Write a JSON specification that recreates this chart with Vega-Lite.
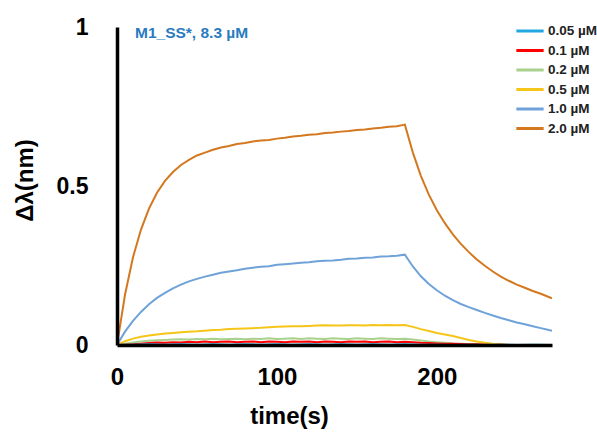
{
"$schema": "https://vega.github.io/schema/vega-lite/v6.json",
"width": 435, "height": 318,
"autosize": {"type": "none"},
"padding": {"left": 117, "top": 27, "right": 45, "bottom": 87},
"background": "white",
"config": {"view": {"stroke": null}, "font": "Liberation Sans"},
"title": {"text": "M1_SS*, 8.3 µM", "anchor": "start", "frame": "group", "orient": "top", "fontSize": 15.5, "fontWeight": "bold", "color": "#2A7BC0", "font": "Liberation Sans", "dx": 18, "dy": 32, "baseline": "middle", "offset": 0},
"datasets": {"d": [
{"t":0,"c":"2.0 µM","v":0},{"t":5,"c":"2.0 µM","v":0.158},{"t":10,"c":"2.0 µM","v":0.276},{"t":15,"c":"2.0 µM","v":0.363},{"t":20,"c":"2.0 µM","v":0.429},{"t":25,"c":"2.0 µM","v":0.479},{"t":30,"c":"2.0 µM","v":0.516},{"t":35,"c":"2.0 µM","v":0.544},{"t":40,"c":"2.0 µM","v":0.566},{"t":45,"c":"2.0 µM","v":0.582},{"t":50,"c":"2.0 µM","v":0.596},{"t":55,"c":"2.0 µM","v":0.605},{"t":60,"c":"2.0 µM","v":0.614},{"t":65,"c":"2.0 µM","v":0.621},{"t":70,"c":"2.0 µM","v":0.626},{"t":75,"c":"2.0 µM","v":0.632},{"t":80,"c":"2.0 µM","v":0.635},{"t":85,"c":"2.0 µM","v":0.640},{"t":90,"c":"2.0 µM","v":0.643},{"t":95,"c":"2.0 µM","v":0.645},{"t":100,"c":"2.0 µM","v":0.649},{"t":105,"c":"2.0 µM","v":0.652},{"t":110,"c":"2.0 µM","v":0.656},{"t":115,"c":"2.0 µM","v":0.658},{"t":120,"c":"2.0 µM","v":0.661},{"t":125,"c":"2.0 µM","v":0.663},{"t":130,"c":"2.0 µM","v":0.667},{"t":135,"c":"2.0 µM","v":0.668},{"t":140,"c":"2.0 µM","v":0.671},{"t":145,"c":"2.0 µM","v":0.673},{"t":150,"c":"2.0 µM","v":0.676},{"t":155,"c":"2.0 µM","v":0.678},{"t":160,"c":"2.0 µM","v":0.681},{"t":165,"c":"2.0 µM","v":0.683},{"t":170,"c":"2.0 µM","v":0.686},{"t":175,"c":"2.0 µM","v":0.688},{"t":180,"c":"2.0 µM","v":0.693},{"t":185,"c":"2.0 µM","v":0.605},{"t":190,"c":"2.0 µM","v":0.532},{"t":195,"c":"2.0 µM","v":0.473},{"t":200,"c":"2.0 µM","v":0.424},{"t":205,"c":"2.0 µM","v":0.383},{"t":210,"c":"2.0 µM","v":0.348},{"t":215,"c":"2.0 µM","v":0.318},{"t":220,"c":"2.0 µM","v":0.292},{"t":225,"c":"2.0 µM","v":0.269},{"t":230,"c":"2.0 µM","v":0.249},{"t":235,"c":"2.0 µM","v":0.231},{"t":240,"c":"2.0 µM","v":0.215},{"t":245,"c":"2.0 µM","v":0.202},{"t":250,"c":"2.0 µM","v":0.190},{"t":255,"c":"2.0 µM","v":0.180},{"t":260,"c":"2.0 µM","v":0.170},{"t":265,"c":"2.0 µM","v":0.161},{"t":270,"c":"2.0 µM","v":0.151},{"t":272,"c":"2.0 µM","v":0.147},
{"t":0,"c":"1.0 µM","v":0},{"t":5,"c":"1.0 µM","v":0.042},{"t":10,"c":"1.0 µM","v":0.076},{"t":15,"c":"1.0 µM","v":0.104},{"t":20,"c":"1.0 µM","v":0.128},{"t":25,"c":"1.0 µM","v":0.148},{"t":30,"c":"1.0 µM","v":0.164},{"t":35,"c":"1.0 µM","v":0.178},{"t":40,"c":"1.0 µM","v":0.190},{"t":45,"c":"1.0 µM","v":0.200},{"t":50,"c":"1.0 µM","v":0.208},{"t":55,"c":"1.0 µM","v":0.215},{"t":60,"c":"1.0 µM","v":0.221},{"t":65,"c":"1.0 µM","v":0.227},{"t":70,"c":"1.0 µM","v":0.231},{"t":75,"c":"1.0 µM","v":0.235},{"t":80,"c":"1.0 µM","v":0.240},{"t":85,"c":"1.0 µM","v":0.243},{"t":90,"c":"1.0 µM","v":0.246},{"t":95,"c":"1.0 µM","v":0.248},{"t":100,"c":"1.0 µM","v":0.252},{"t":105,"c":"1.0 µM","v":0.254},{"t":110,"c":"1.0 µM","v":0.256},{"t":115,"c":"1.0 µM","v":0.259},{"t":120,"c":"1.0 µM","v":0.260},{"t":125,"c":"1.0 µM","v":0.263},{"t":130,"c":"1.0 µM","v":0.265},{"t":135,"c":"1.0 µM","v":0.266},{"t":140,"c":"1.0 µM","v":0.268},{"t":145,"c":"1.0 µM","v":0.271},{"t":150,"c":"1.0 µM","v":0.272},{"t":155,"c":"1.0 µM","v":0.274},{"t":160,"c":"1.0 µM","v":0.275},{"t":165,"c":"1.0 µM","v":0.278},{"t":170,"c":"1.0 µM","v":0.279},{"t":175,"c":"1.0 µM","v":0.281},{"t":180,"c":"1.0 µM","v":0.284},{"t":185,"c":"1.0 µM","v":0.247},{"t":190,"c":"1.0 µM","v":0.216},{"t":195,"c":"1.0 µM","v":0.192},{"t":200,"c":"1.0 µM","v":0.172},{"t":205,"c":"1.0 µM","v":0.155},{"t":210,"c":"1.0 µM","v":0.141},{"t":215,"c":"1.0 µM","v":0.129},{"t":220,"c":"1.0 µM","v":0.119},{"t":225,"c":"1.0 µM","v":0.110},{"t":230,"c":"1.0 µM","v":0.101},{"t":235,"c":"1.0 µM","v":0.093},{"t":240,"c":"1.0 µM","v":0.085},{"t":245,"c":"1.0 µM","v":0.078},{"t":250,"c":"1.0 µM","v":0.071},{"t":255,"c":"1.0 µM","v":0.065},{"t":260,"c":"1.0 µM","v":0.059},{"t":265,"c":"1.0 µM","v":0.053},{"t":270,"c":"1.0 µM","v":0.047},{"t":272,"c":"1.0 µM","v":0.045},
{"t":0,"c":"0.5 µM","v":0},{"t":5,"c":"0.5 µM","v":0.012},{"t":10,"c":"0.5 µM","v":0.020},{"t":15,"c":"0.5 µM","v":0.026},{"t":20,"c":"0.5 µM","v":0.030},{"t":25,"c":"0.5 µM","v":0.033},{"t":30,"c":"0.5 µM","v":0.036},{"t":35,"c":"0.5 µM","v":0.038},{"t":40,"c":"0.5 µM","v":0.040},{"t":45,"c":"0.5 µM","v":0.042},{"t":50,"c":"0.5 µM","v":0.043},{"t":55,"c":"0.5 µM","v":0.045},{"t":60,"c":"0.5 µM","v":0.047},{"t":65,"c":"0.5 µM","v":0.048},{"t":70,"c":"0.5 µM","v":0.050},{"t":75,"c":"0.5 µM","v":0.051},{"t":80,"c":"0.5 µM","v":0.052},{"t":85,"c":"0.5 µM","v":0.053},{"t":90,"c":"0.5 µM","v":0.054},{"t":95,"c":"0.5 µM","v":0.056},{"t":100,"c":"0.5 µM","v":0.057},{"t":105,"c":"0.5 µM","v":0.058},{"t":110,"c":"0.5 µM","v":0.059},{"t":115,"c":"0.5 µM","v":0.059},{"t":120,"c":"0.5 µM","v":0.060},{"t":125,"c":"0.5 µM","v":0.061},{"t":130,"c":"0.5 µM","v":0.062},{"t":135,"c":"0.5 µM","v":0.061},{"t":140,"c":"0.5 µM","v":0.061},{"t":145,"c":"0.5 µM","v":0.062},{"t":150,"c":"0.5 µM","v":0.062},{"t":155,"c":"0.5 µM","v":0.061},{"t":160,"c":"0.5 µM","v":0.063},{"t":165,"c":"0.5 µM","v":0.062},{"t":170,"c":"0.5 µM","v":0.063},{"t":175,"c":"0.5 µM","v":0.062},{"t":180,"c":"0.5 µM","v":0.063},{"t":185,"c":"0.5 µM","v":0.057},{"t":190,"c":"0.5 µM","v":0.050},{"t":195,"c":"0.5 µM","v":0.044},{"t":200,"c":"0.5 µM","v":0.038},{"t":205,"c":"0.5 µM","v":0.033},{"t":210,"c":"0.5 µM","v":0.028},{"t":215,"c":"0.5 µM","v":0.022},{"t":220,"c":"0.5 µM","v":0.016},{"t":225,"c":"0.5 µM","v":0.011},{"t":230,"c":"0.5 µM","v":0.007},{"t":235,"c":"0.5 µM","v":0.004},{"t":240,"c":"0.5 µM","v":0.002},{"t":245,"c":"0.5 µM","v":0.000},{"t":250,"c":"0.5 µM","v":-0.001},{"t":255,"c":"0.5 µM","v":0.000},{"t":260,"c":"0.5 µM","v":-0.001},{"t":265,"c":"0.5 µM","v":0.000},{"t":270,"c":"0.5 µM","v":-0.001},{"t":272,"c":"0.5 µM","v":0.000},
{"t":0,"c":"0.2 µM","v":0},{"t":5,"c":"0.2 µM","v":0.004},{"t":10,"c":"0.2 µM","v":0.008},{"t":15,"c":"0.2 µM","v":0.011},{"t":20,"c":"0.2 µM","v":0.013},{"t":25,"c":"0.2 µM","v":0.015},{"t":30,"c":"0.2 µM","v":0.016},{"t":35,"c":"0.2 µM","v":0.017},{"t":40,"c":"0.2 µM","v":0.018},{"t":45,"c":"0.2 µM","v":0.017},{"t":50,"c":"0.2 µM","v":0.019},{"t":55,"c":"0.2 µM","v":0.018},{"t":60,"c":"0.2 µM","v":0.020},{"t":65,"c":"0.2 µM","v":0.018},{"t":70,"c":"0.2 µM","v":0.019},{"t":75,"c":"0.2 µM","v":0.020},{"t":80,"c":"0.2 µM","v":0.018},{"t":85,"c":"0.2 µM","v":0.020},{"t":90,"c":"0.2 µM","v":0.019},{"t":95,"c":"0.2 µM","v":0.021},{"t":100,"c":"0.2 µM","v":0.019},{"t":105,"c":"0.2 µM","v":0.020},{"t":110,"c":"0.2 µM","v":0.021},{"t":115,"c":"0.2 µM","v":0.019},{"t":120,"c":"0.2 µM","v":0.021},{"t":125,"c":"0.2 µM","v":0.020},{"t":130,"c":"0.2 µM","v":0.019},{"t":135,"c":"0.2 µM","v":0.021},{"t":140,"c":"0.2 µM","v":0.020},{"t":145,"c":"0.2 µM","v":0.019},{"t":150,"c":"0.2 µM","v":0.021},{"t":155,"c":"0.2 µM","v":0.020},{"t":160,"c":"0.2 µM","v":0.019},{"t":165,"c":"0.2 µM","v":0.021},{"t":170,"c":"0.2 µM","v":0.020},{"t":175,"c":"0.2 µM","v":0.019},{"t":180,"c":"0.2 µM","v":0.020},{"t":185,"c":"0.2 µM","v":0.017},{"t":190,"c":"0.2 µM","v":0.014},{"t":195,"c":"0.2 µM","v":0.011},{"t":200,"c":"0.2 µM","v":0.009},{"t":205,"c":"0.2 µM","v":0.007},{"t":210,"c":"0.2 µM","v":0.005},{"t":215,"c":"0.2 µM","v":0.004},{"t":220,"c":"0.2 µM","v":0.003},{"t":225,"c":"0.2 µM","v":0.002},{"t":230,"c":"0.2 µM","v":0.001},{"t":235,"c":"0.2 µM","v":0.001},{"t":240,"c":"0.2 µM","v":0.000},{"t":245,"c":"0.2 µM","v":-0.001},{"t":250,"c":"0.2 µM","v":0.000},{"t":255,"c":"0.2 µM","v":-0.001},{"t":260,"c":"0.2 µM","v":0.000},{"t":265,"c":"0.2 µM","v":-0.001},{"t":270,"c":"0.2 µM","v":0.000},{"t":272,"c":"0.2 µM","v":0.000},
{"t":0,"c":"0.1 µM","v":0},{"t":5,"c":"0.1 µM","v":0.001},{"t":10,"c":"0.1 µM","v":0.002},{"t":15,"c":"0.1 µM","v":0.004},{"t":20,"c":"0.1 µM","v":0.006},{"t":25,"c":"0.1 µM","v":0.008},{"t":30,"c":"0.1 µM","v":0.007},{"t":35,"c":"0.1 µM","v":0.009},{"t":40,"c":"0.1 µM","v":0.008},{"t":45,"c":"0.1 µM","v":0.010},{"t":50,"c":"0.1 µM","v":0.009},{"t":55,"c":"0.1 µM","v":0.011},{"t":60,"c":"0.1 µM","v":0.009},{"t":65,"c":"0.1 µM","v":0.010},{"t":70,"c":"0.1 µM","v":0.011},{"t":75,"c":"0.1 µM","v":0.009},{"t":80,"c":"0.1 µM","v":0.010},{"t":85,"c":"0.1 µM","v":0.011},{"t":90,"c":"0.1 µM","v":0.009},{"t":95,"c":"0.1 µM","v":0.011},{"t":100,"c":"0.1 µM","v":0.010},{"t":105,"c":"0.1 µM","v":0.009},{"t":110,"c":"0.1 µM","v":0.011},{"t":115,"c":"0.1 µM","v":0.010},{"t":120,"c":"0.1 µM","v":0.011},{"t":125,"c":"0.1 µM","v":0.009},{"t":130,"c":"0.1 µM","v":0.011},{"t":135,"c":"0.1 µM","v":0.010},{"t":140,"c":"0.1 µM","v":0.009},{"t":145,"c":"0.1 µM","v":0.011},{"t":150,"c":"0.1 µM","v":0.010},{"t":155,"c":"0.1 µM","v":0.011},{"t":160,"c":"0.1 µM","v":0.009},{"t":165,"c":"0.1 µM","v":0.010},{"t":170,"c":"0.1 µM","v":0.011},{"t":175,"c":"0.1 µM","v":0.009},{"t":180,"c":"0.1 µM","v":0.010},{"t":185,"c":"0.1 µM","v":0.009},{"t":190,"c":"0.1 µM","v":0.007},{"t":195,"c":"0.1 µM","v":0.006},{"t":200,"c":"0.1 µM","v":0.005},{"t":205,"c":"0.1 µM","v":0.004},{"t":210,"c":"0.1 µM","v":0.004},{"t":215,"c":"0.1 µM","v":0.003},{"t":220,"c":"0.1 µM","v":0.002},{"t":225,"c":"0.1 µM","v":0.002},{"t":230,"c":"0.1 µM","v":0.001},{"t":235,"c":"0.1 µM","v":0.000},{"t":240,"c":"0.1 µM","v":0.001},{"t":245,"c":"0.1 µM","v":0.000},{"t":250,"c":"0.1 µM","v":-0.001},{"t":255,"c":"0.1 µM","v":0.000},{"t":260,"c":"0.1 µM","v":-0.001},{"t":265,"c":"0.1 µM","v":0.000},{"t":270,"c":"0.1 µM","v":0.000},{"t":272,"c":"0.1 µM","v":0.000},
{"t":0,"c":"0.05 µM","v":0},{"t":10,"c":"0.05 µM","v":0.001},{"t":20,"c":"0.05 µM","v":0.002},{"t":30,"c":"0.05 µM","v":0.001},{"t":40,"c":"0.05 µM","v":0.002},{"t":50,"c":"0.05 µM","v":0.001},{"t":60,"c":"0.05 µM","v":0.002},{"t":70,"c":"0.05 µM","v":0.001},{"t":80,"c":"0.05 µM","v":0.002},{"t":90,"c":"0.05 µM","v":0.001},{"t":100,"c":"0.05 µM","v":0.002},{"t":110,"c":"0.05 µM","v":0.001},{"t":120,"c":"0.05 µM","v":0.002},{"t":130,"c":"0.05 µM","v":0.001},{"t":140,"c":"0.05 µM","v":0.002},{"t":150,"c":"0.05 µM","v":0.001},{"t":160,"c":"0.05 µM","v":0.002},{"t":170,"c":"0.05 µM","v":0.001},{"t":180,"c":"0.05 µM","v":0.002},{"t":190,"c":"0.05 µM","v":0.001},{"t":200,"c":"0.05 µM","v":0.001},{"t":210,"c":"0.05 µM","v":0.000},{"t":220,"c":"0.05 µM","v":0.001},{"t":230,"c":"0.05 µM","v":0.000},{"t":240,"c":"0.05 µM","v":0.001},{"t":250,"c":"0.05 µM","v":0.000},{"t":260,"c":"0.05 µM","v":0.001},{"t":272,"c":"0.05 µM","v":0.000}
]},
"data": {"name": "d"},
"mark": {"type": "line", "strokeWidth": 2, "clip": true},
"encoding": {
  "x": {"field": "t", "type": "quantitative", "scale": {"domain": [0, 272], "nice": false},
    "axis": {"values": [0, 100, 200], "title": "time(s)", "grid": false, "ticks": false, "labelFlush": false, "domainColor": "black", "domainWidth": 3.5, "labelFontSize": 24, "labelFontWeight": "bold", "labelColor": "black", "labelPadding": 20, "labelFont": "Liberation Sans", "titleFont": "Liberation Sans", "titleFontSize": 24, "titleFontWeight": "bold", "titleColor": "black", "titleX": 172, "titleY": 78, "titleBaseline": "alphabetic", "titleAnchor": "middle", "zindex": 1}},
  "y": {"field": "v", "type": "quantitative", "scale": {"domain": [0, 1], "nice": false},
    "axis": {"values": [0, 0.5, 1], "format": "~g", "title": "Δλ(nm)", "grid": false, "ticks": false, "labelFlush": false, "domainColor": "black", "domainWidth": 3.5, "labelFontSize": 23, "labelFontWeight": "bold", "labelColor": "black", "labelPadding": 29, "labelFont": "Liberation Sans", "titleFont": "Liberation Sans", "titleFontSize": 24, "titleFontWeight": "bold", "titleColor": "black", "titleX": -92, "titleY": 153, "titleBaseline": "middle", "titleAlign": "center", "titleAngle": -90, "zindex": 1}},
  "color": {"field": "c", "type": "nominal",
    "scale": {"domain": ["0.05 µM", "0.1 µM", "0.2 µM", "0.5 µM", "1.0 µM", "2.0 µM"], "range": ["#22A7E0", "#FF0000", "#A9D18E", "#F5C518", "#6FA2D8", "#D4781F"]},
    "legend": {"orient": "none", "legendX": 401, "legendY": -8, "title": null, "symbolType": "M-1.3,0H1.3", "symbolSize": 441, "symbolStrokeWidth": 3, "labelFontSize": 13.5, "labelFontWeight": "bold", "labelColor": "#222222", "labelFont": "Liberation Sans", "rowPadding": 0.5, "labelOffset": 6, "padding": 0}}
}
}
